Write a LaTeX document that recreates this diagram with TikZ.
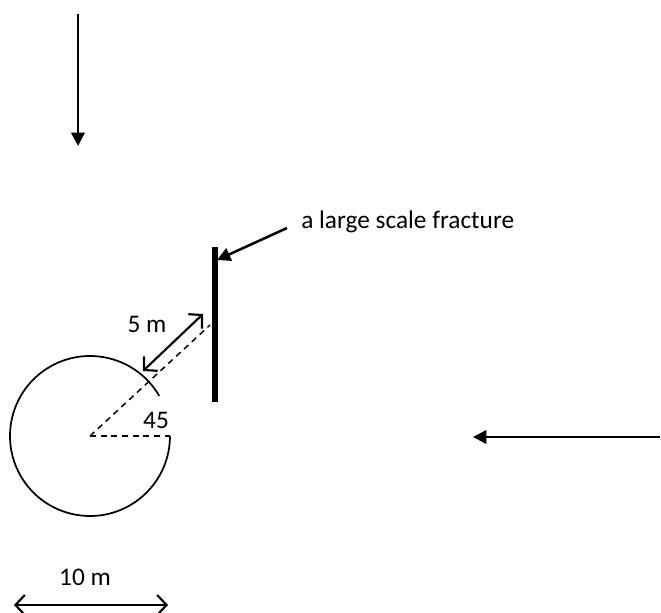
\documentclass[tikz,border=0pt]{standalone}
\usepackage{fontspec}
\setmainfont{Carlito}
\usetikzlibrary{arrows.meta,positioning}

\begin{document}
\begin{tikzpicture}[x=0.75pt, y=0.75pt,
  flow/.style={line width=1.9pt, -{Triangle[length=10pt, width=10pt]}},
  dim/.style={line width=1.6pt, {Straight Barb[length=7pt, width=15pt]}-{Straight Barb[length=7pt, width=15pt]}},
  guide/.style={line width=1.1pt, dash pattern=on 4.5pt off 3.5pt},
  lbl/.style={font=\fontsize{19}{22}\selectfont, inner sep=0pt}]
\path[use as bounding box] (0,0) rectangle (661,612);
\coordinate (Ntop) at (78,598);
\coordinate (Nbot) at (78,466);
\coordinate (Eright) at (660,175);
\coordinate (Eleft) at (473,175);
\coordinate (O) at (90,176);
\coordinate (Oedge) at (170,176);
\coordinate (Fhit) at (210,287);
\coordinate (Ftop) at (215,365);
\coordinate (Fbot) at (215,210);
\coordinate (Ftail) at (287,384);
\coordinate (Ftip) at (217,352);
\coordinate (Din) at (143,241);
\coordinate (Dout) at (203,298);
\coordinate (Sleft) at (14,7);
\coordinate (Sright) at (168,7);
\node[lbl, anchor=west] (fracture) at (301,390) {a large scale fracture};
\node[lbl] (dist) at (147,288) {5 m};
\node[lbl] (angle) at (156,192) {45};
\node[lbl] (scale) at (85,35) {10 m};
\draw[flow] (Ntop) -- (Nbot);
\draw[flow] (Eright) -- (Eleft);
\draw[line width=1.3pt] (O) ++(30:80) arc[start angle=30, end angle=360, radius=80];
\draw[guide] (O) -- (Oedge);
\draw[guide] (O) -- (Fhit);
\draw[line width=3.9pt] (Ftop) -- (Fbot);
\draw[flow] (Ftail) -- (Ftip);
\draw[dim] (Din) -- (Dout);
\draw[dim] (Sleft) -- (Sright);
\end{tikzpicture}
\end{document}
